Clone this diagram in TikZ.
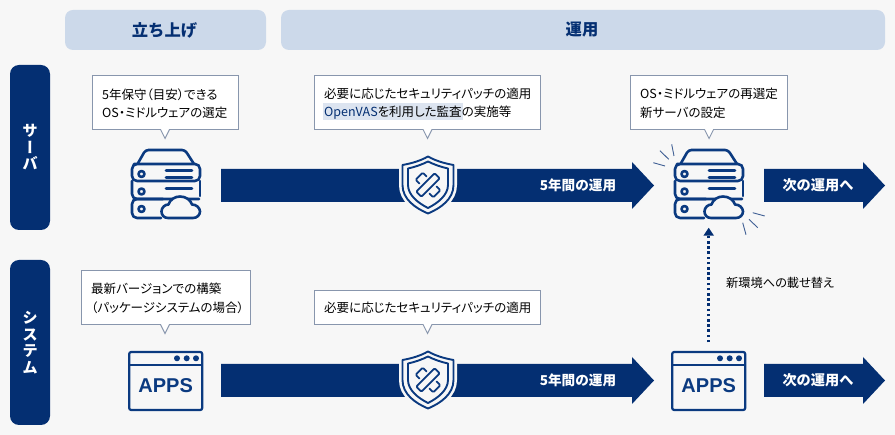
\documentclass[tikz,border=0pt]{standalone}
\usepackage{fontspec}
\usetikzlibrary{arrows.meta}
\setmainfont[RawFeature={+palt}]{Noto Sans CJK JP}
\newfontfamily\plainfont{Noto Sans CJK JP}
\newfontfamily\vertfont[RawFeature={+vert}]{Noto Sans CJK JP}
\newfontfamily\appsfont{Liberation Sans}
\definecolor{navy}{HTML}{042F72}
\definecolor{iconblue}{HTML}{0B3A80}
\definecolor{headbg}{HTML}{CCD9EA}
\definecolor{pagebg}{HTML}{F7F7F7}
\definecolor{callline}{HTML}{8896AD}
\definecolor{hilite}{HTML}{DCE4F0}
\definecolor{rayblue}{HTML}{3F5F94}
\newcommand{\calloutshape}[5]{%
  \draw[calloutline] (#1,#2) -- (#3,#2) -- (#3,#4) -- (#5+4.5,#4) -- (#5,#4+9) -- (#5-4.5,#4) -- (#1,#4) -- cycle;}
\newcommand{\blockarrow}[3]{% x start, x head base, y centre
  \fill[navy] (#1,#3-16.5) -- (#2,#3-16.5) -- (#2,#3-23.5) -- (#2+22,#3) -- (#2,#3+23.5) -- (#2,#3+16.5) -- (#1,#3+16.5) -- cycle;}
\tikzset{
  x=1pt,y=-1pt,
  headbox/.style={fill=headbg,draw=none,rounded corners=8pt,inner sep=0pt,text=navy,font=\plainfont\fontsize{16.3}{18}\selectfont\bfseries},
  sidebox/.style={fill=navy,draw=none,rounded corners=9pt,inner sep=0pt,text=white,align=center,font=\vertfont\fontsize{15.5}{16.5}\selectfont\bfseries},
  calloutline/.style={draw=callline,fill=white,line width=0.9pt,line join=miter},
  calltext/.style={anchor=west,inner sep=0pt,align=left,text=black,font=\fontsize{12.5}{18.5}\selectfont},
  arrowtext/.style={anchor=center,inner sep=0pt,text=white,font=\plainfont\fontsize{13.6}{16}\selectfont\bfseries},
  nexttext/.style={arrowtext,font=\plainfont\fontsize{14.2}{16}\selectfont\bfseries},
  iconline/.style={draw=iconblue,line width=2.6pt,line cap=round,line join=round},
  serverpic/.pic={
    \draw[iconline,rounded corners=3pt] (6.5,15) -- (14.5,1) -- (54,1) -- (63,15);
    \draw[iconline,rounded corners=5pt] (8,15) -- (69,15) -- (69,32) -- (1,32) -- (1,15) -- cycle;
    \draw[iconline,rounded corners=5pt] (1,32) -- (1,50) -- (68,50);
    \draw[iconline,rounded corners=5pt] (69,32) -- (69,47);
    \draw[iconline,rounded corners=5pt] (32,50) -- (1,50) -- (1,69) -- (30,69);
    \draw[iconline] (10.5,25) circle (3);
    \draw[iconline] (10.5,42.5) circle (3);
    \draw[iconline] (10.5,60) circle (3);
    \draw[iconline] (35,21.7) -- (61,21.7);
    \draw[iconline] (35,28.3) -- (61,28.3);
    \draw[iconline] (35,39.7) -- (61,39.7);
    \draw[iconline,fill=pagebg] (37,69) .. controls (32.5,69) and (30.5,65.5) .. (30.5,62.5)
      .. controls (30.5,58.5) and (34,55.5) .. (37.5,55.5)
      .. controls (39,50.5) and (44,47.5) .. (49,47.5)
      .. controls (55,47.5) and (59.5,51) .. (61,55.5)
      .. controls (65.5,55.5) and (69,59) .. (69,62.5)
      .. controls (69,66) and (66,69) .. (62,69) -- cycle;
  },
  shieldpic/.pic={
    \path[draw=pagebg,line width=7pt,line join=round,fill=pagebg] (0,-30.5)
      .. controls (-8,-26) and (-17,-23.5) .. (-25.5,-22) -- (-25.5,-2)
      .. controls (-25.5,12) and (-13,21) .. (0,26.5)
      .. controls (13,21) and (25.5,12) .. (25.5,-2) -- (25.5,-22)
      .. controls (17,-23.5) and (8,-26) .. (0,-30.5) -- cycle;
    \draw[iconline,line width=1.9pt] (0,-30.5)
      .. controls (-8,-26) and (-17,-23.5) .. (-25.5,-22) -- (-25.5,-2)
      .. controls (-25.5,12) and (-13,21) .. (0,26.5)
      .. controls (13,21) and (25.5,12) .. (25.5,-2) -- (25.5,-22)
      .. controls (17,-23.5) and (8,-26) .. (0,-30.5) -- cycle;
    \draw[iconline,line width=1.9pt] (0,-25.5)
      .. controls (-6,-22.5) and (-13,-20) .. (-20,-18.5) -- (-20,-2)
      .. controls (-20,8) and (-10,16) .. (0,21)
      .. controls (10,16) and (20,8) .. (20,-2) -- (20,-18.5)
      .. controls (13,-20) and (6,-22.5) .. (0,-25.5) -- cycle;
    \begin{scope}[shift={(0,-2)},rotate=45]
      \draw[iconline,line width=1.8pt,rounded corners=1.2pt] (-13,-3.6) rectangle (13,3.6);
      \draw[iconline,line width=1.8pt,rounded corners=1.2pt] (-5,7.2) -- (-5,12.5) -- (5,12.5) -- (5,7.2);
      \draw[iconline,line width=1.8pt,rounded corners=1.2pt] (-5,-7.2) -- (-5,-12.5) -- (5,-12.5) -- (5,-7.2);
    \end{scope}
  },
  appsbox/.style={draw=iconblue,line width=2.2pt,rounded corners=2pt,minimum width=73pt,minimum height=58pt,inner sep=0pt,text=iconblue,font=\appsfont\fontsize{20}{22}\selectfont\bfseries,text depth=0pt},
  raystroke/.style={draw=rayblue,line width=0.9pt},
}
\begin{document}
\begin{tikzpicture}
\useasboundingbox (0,0) rectangle (895,435);
\fill[pagebg] (0,0) rectangle (895,435);

% column headers
\node[headbox,minimum width=201pt,minimum height=40pt] (headstart) at (165.5,30) {\hspace{-2pt}立ち上げ};
\node[headbox,minimum width=604pt,minimum height=40pt] (headrun) at (583,30) {\hspace{-2pt}運用};

% row labels
\node[sidebox,minimum width=40pt,minimum height=165pt] (sideserver) at (30,147.5) {サ\\ー\\バ};
\node[sidebox,minimum width=40pt,minimum height=165pt] (sidesystem) at (30,342.5) {シ\\ス\\テ\\ム};

% block arrows
\blockarrow{221}{632}{185.5}
\blockarrow{764}{863}{185.5}
\blockarrow{221}{632}{380.5}
\blockarrow{764}{863}{380.5}
\node[arrowtext] (lifeA) at (578,185.5) {5年間の運用};
\node[arrowtext] (lifeB) at (578,380.5) {5年間の運用};
\node[nexttext] (nextA) at (818,185.5) {次の運用へ};
\node[nexttext] (nextB) at (818,380.5) {次の運用へ};

% callouts
\calloutshape{92.5}{75.5}{238.5}{129.5}{165}
\node[calltext] (noteA) at (102,103.5) {5年保守（目安）できる\\OS・ミドルウェアの選定};
\calloutshape{314.5}{75.5}{540.5}{129.5}{427.5}
\fill[hilite] (323,103.5) rectangle (462.5,120);
\node[calltext] (noteB) at (324,103.5) {必要に応じたセキュリティパッチの適用\\\textcolor{navy}{OpenVAS}を利用した監査の実施等};
\calloutshape{630.5}{75.5}{787.5}{129.5}{709}
\node[calltext] (noteC) at (640,103.5) {OS・ミドルウェアの再選定\\新サーバの設定};
\calloutshape{81.5}{270.5}{250.5}{324.5}{165}
\node[calltext] (noteD) at (91,298.5) {最新バージョンでの構築\\（パッケージシステムの場合）};
\calloutshape{314.5}{290.5}{540.5}{324.5}{427.5}
\node[calltext] (noteE) at (324,307.5) {必要に応じたセキュリティパッチの適用};

% server icons
\pic at (131,149) {serverpic};
\pic at (674,149) {serverpic};
\node[inner sep=0pt,minimum width=70pt,minimum height=70pt] (serverB) at (709,184) {};

% rays
\draw[raystroke] (671.7,144.3) -- (674,156);
\draw[raystroke] (660,150.7) -- (668.7,159.3);
\draw[raystroke] (653.3,162.7) -- (665,166);
\draw[raystroke] (752.7,212.7) -- (764.7,216);
\draw[raystroke] (749,219.3) -- (757.7,227.7);
\draw[raystroke] (742.7,222.7) -- (746,234.7);

% shields
\pic at (428,187) {shieldpic};
\pic at (428,382) {shieldpic};

% apps windows
\node[appsbox] (appsA) at (165.7,381) {\raisebox{-9pt}{APPS}};
\node[appsbox] (appsB) at (708.7,381) {\raisebox{-9pt}{APPS}};
\foreach \ox/\nm in {165.7/A,708.7/B}{
  \draw[iconline,line cap=butt,line width=2.2pt] (\ox-36.5,365) -- (\ox+36.5,365);
  \fill[iconblue] (\ox+11.3,358.3) circle (3) (\ox+21,358.3) circle (3) (\ox+30.3,358.3) circle (3);
}

% migration
\draw[navy,line width=3pt,dash pattern=on 2.6pt off 2.6pt,-{Triangle[length=8pt,width=10pt]},shorten <=8.5pt,shorten >=8.5pt] (appsB.north) -- (appsB.north |- serverB.south);
\node[anchor=west,inner sep=0pt,text=black,font=\fontsize{12.2}{14}\selectfont] (movelabel) at (726,283) {新環境への載せ替え};
\end{tikzpicture}
\end{document}
